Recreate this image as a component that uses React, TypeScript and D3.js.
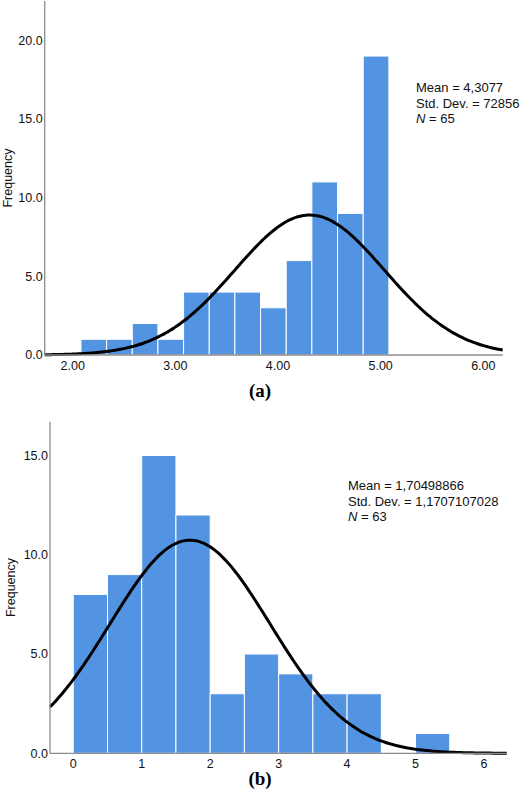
import React, { useEffect, useRef } from 'react'
import * as d3 from 'd3'

// Panel (a)
const edgesA = [2.08, 2.33, 2.58, 2.83, 3.08, 3.33, 3.58, 3.83, 4.08, 4.33, 4.58, 4.83, 5.08]
const countsA = [1, 1, 2, 1, 4, 4, 4, 3, 6, 11, 9, 19]
const ticksXA = [2, 3, 4, 5, 6]
const ticksYA = [0, 5, 10, 15, 20]
const statsA = { mean: 4.3077, sd: 0.72856, n: 65 }
const statLinesA = ['Mean = 4,3077', 'Std. Dev. = 72856', '65']

// Panel (b)
const edgesB = [0, 0.5, 1, 1.5, 2, 2.5, 3, 3.5, 4, 4.5, 5, 5.5]
const countsB = [8, 9, 15, 12, 3, 5, 4, 3, 3, 0, 1]
const ticksXB = [0, 1, 2, 3, 4, 5, 6]
const ticksYB = [0, 5, 10, 15]
const statsB = { mean: 1.70498866, sd: 1.1707107028, n: 63 }
const statLinesB = ['Mean = 1,70498866', 'Std. Dev. = 1,1707107028', '63']

const FONT = '"Liberation Sans", Arial, sans-serif'
const BAR = '#5294e2'
const AXIS = '#8c8c8c'

interface Panel {
  edges: number[]
  counts: number[]
  ticksX: number[]
  ticksY: number[]
  xFmt: (d: number) => string
  stats: { mean: number; sd: number; n: number }
  lines: string[]
  xDomain: [number, number]
  yMax: number
  left: number
  right: number
  top: number
  bottom: number
  statX: number
  statY: number
  freqX: number
  caption: string
  captionY: number
}

const panels: Panel[] = [
  {
    edges: edgesA, counts: countsA, ticksX: ticksXA, ticksY: ticksYA,
    xFmt: d3.format('.2f'), stats: statsA, lines: statLinesA,
    xDomain: [1.727, 6.189], yMax: 22.5,
    left: 44.7, right: 502.7, top: 1, bottom: 355,
    statX: 416, statY: 92, freqX: 12, caption: '(a)', captionY: 397,
  },
  {
    edges: edgesB, counts: countsB, ticksX: ticksXB, ticksY: ticksYB,
    xFmt: d3.format('d'), stats: statsB, lines: statLinesB,
    xDomain: [-0.34, 6.332], yMax: 16.7,
    left: 50, right: 506.7, top: 421.7, bottom: 753.3,
    statX: 348, statY: 490, freqX: 15, caption: '(b)', captionY: 785,
  },
]

export default function App() {
  const svgRef = useRef<SVGSVGElement>(null)

  useEffect(() => {
    if (!svgRef.current) return
    const root = d3.select(svgRef.current)
    root.selectAll('*').remove()

    panels.forEach((p) => {
      const g = root.append('g')
      const x = d3.scaleLinear().domain(p.xDomain).range([p.left, p.right])
      const y = d3.scaleLinear().domain([0, p.yMax]).range([p.bottom, p.top])

      // bars
      g.selectAll('rect')
        .data(p.counts)
        .enter().append('rect')
        .attr('x', (_, i) => x(p.edges[i]))
        .attr('width', (_, i) => x(p.edges[i + 1]) - x(p.edges[i]))
        .attr('y', d => y(d))
        .attr('height', d => y(0) - y(d))
        .attr('fill', BAR)
        .attr('stroke', '#ffffff')
        .attr('stroke-width', 1)
        .style('display', d => (d > 0 ? null : 'none'))

      // normal curve
      const binW = p.edges[1] - p.edges[0]
      const scale = p.stats.n * binW / (p.stats.sd * Math.sqrt(2 * Math.PI))
      const xs = d3.range(0, 201).map(i => p.xDomain[0] + (p.xDomain[1] - p.xDomain[0]) * i / 200)
      const line = d3.line<number>()
        .x(d => x(d))
        .y(d => y(scale * Math.exp(-0.5 * ((d - p.stats.mean) / p.stats.sd) ** 2)))
        .curve(d3.curveBasis)
      g.append('path')
        .datum(xs)
        .attr('fill', 'none')
        .attr('stroke', '#000')
        .attr('stroke-width', 3)
        .attr('d', line)

      // axes lines
      g.append('line')
        .attr('x1', p.left).attr('x2', p.left)
        .attr('y1', p.top).attr('y2', p.bottom)
        .attr('stroke', AXIS).attr('stroke-width', 1.3)
      g.append('line')
        .attr('x1', p.left).attr('x2', p.right)
        .attr('y1', p.bottom).attr('y2', p.bottom)
        .attr('stroke', AXIS).attr('stroke-width', 1.3)

      // y tick labels
      g.selectAll('.ytick')
        .data(p.ticksY)
        .enter().append('text')
        .attr('class', 'ytick')
        .attr('x', p.left - 2)
        .attr('y', d => y(d))
        .attr('dy', '0.35em')
        .attr('text-anchor', 'end')
        .attr('font-family', FONT)
        .attr('font-size', 12.5)
        .attr('fill', '#111')
        .text(d => d3.format('.1f')(d))

      // x tick labels
      g.selectAll('.xtick')
        .data(p.ticksX)
        .enter().append('text')
        .attr('class', 'xtick')
        .attr('x', d => x(d))
        .attr('y', p.bottom + 15)
        .attr('text-anchor', 'middle')
        .attr('font-family', FONT)
        .attr('font-size', 12.5)
        .attr('fill', '#111')
        .text(d => p.xFmt(d))

      // y title
      g.append('text')
        .attr('transform', `translate(${p.freqX},${(p.top + p.bottom) / 2}) rotate(-90)`)
        .attr('text-anchor', 'middle')
        .attr('font-family', FONT)
        .attr('font-size', 12.5)
        .attr('fill', '#111')
        .text('Frequency')

      // stats box
      const st = g.append('text')
        .attr('font-family', FONT)
        .attr('font-size', 13)
        .attr('fill', '#111')
      st.append('tspan').attr('x', p.statX).attr('y', p.statY).text(p.lines[0])
      st.append('tspan').attr('x', p.statX).attr('y', p.statY + 15.5).text(p.lines[1])
      const last = st.append('tspan').attr('x', p.statX).attr('y', p.statY + 31)
      last.append('tspan').attr('font-style', 'italic').text('N')
      last.append('tspan').text(` = ${p.lines[2]}`)

      // caption
      g.append('text')
        .attr('x', 260)
        .attr('y', p.captionY)
        .attr('text-anchor', 'middle')
        .attr('font-family', '"Liberation Serif", "Times New Roman", serif')
        .attr('font-weight', 'bold')
        .attr('font-size', 19)
        .attr('fill', '#000')
        .text(p.caption)
    })
  }, [])

  return (
    <svg
      ref={svgRef}
      width={520}
      height={793}
      style={{ position: 'absolute', left: 0, top: 0, background: '#fff' }}
    />
  )
}
